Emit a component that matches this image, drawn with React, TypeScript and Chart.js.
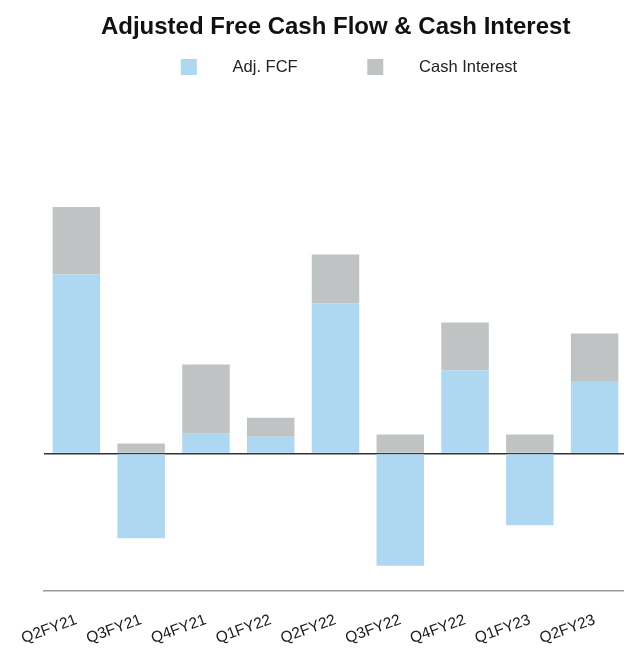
import { useEffect, useRef } from "react";
import { Chart, registerables } from "chart.js";

Chart.register(...registerables);

const categories = ["Q2FY21", "Q3FY21", "Q4FY21", "Q1FY22", "Q2FY22", "Q3FY22", "Q4FY22", "Q1FY23", "Q2FY23"];
const adjFcf = [179, -85, 19.6, 16.6, 150, -112.4, 83.3, -72, 72.3];
const cashInterest = [67.6, 10, 69.4, 19, 49, 19, 47.7, 19, 47.7];
const seriesLabels = ["Adj. FCF", "Cash Interest"];
const seriesColors = ["#AED7F2", "#C0C3C4"];
const titleText = "Adjusted Free Cash Flow & Cash Interest";
const yMin = -137.4;
const yMax = 368.3;

const FONT = "'Liberation Sans', Arial, Helvetica, sans-serif";

export default function App() {
  const canvasRef = useRef<HTMLCanvasElement | null>(null);

  useEffect(() => {
    document.documentElement.style.overflow = "hidden";
    document.body.style.overflow = "hidden";
    const canvas = canvasRef.current;
    if (!canvas) return;
    const chart = new Chart(canvas, {
      type: "bar",
      data: {
        labels: categories,
        datasets: [
          {
            label: seriesLabels[0],
            data: adjFcf,
            backgroundColor: seriesColors[0],
            borderWidth: 0,
            stack: "s",
          },
          {
            label: seriesLabels[1],
            data: cashInterest,
            backgroundColor: seriesColors[1],
            borderWidth: 0,
            stack: "s",
          },
        ],
      },
      options: {
        animation: false,
        responsive: true,
        maintainAspectRatio: false,
        layout: { padding: { left: 36, right: 0, top: 0, bottom: 0 } },
        datasets: {
          bar: { categoryPercentage: 1, barPercentage: 0.733 },
        },
        plugins: {
          tooltip: { enabled: false },
          title: {
            display: true,
            text: titleText + "    ",
            color: "#111111",
            font: { family: FONT, size: 24, weight: "bold" },
            padding: { top: 5, bottom: 7 },
          },
          legend: {
            display: true,
            position: "top",
            align: "center",
            labels: {
              boxWidth: 16,
              boxHeight: 16,
              padding: 10,
              color: "#222222",
              font: { family: FONT, size: 16.5 },
              generateLabels: (c: any) => {
                const items = Chart.defaults.plugins.legend.labels.generateLabels(c);
                return items.map((it: any, i: number) => ({
                  ...it,
                  lineWidth: 0,
                  text: "      " + it.text + (i === 0 ? " ".repeat(13) : ""),
                }));
              },
            },
          },
        },
        scales: {
          x: {
            stacked: true,
            grid: { display: false, drawTicks: false },
            border: { display: true, color: "#9a9a9a", width: 1.5 },
            ticks: {
              autoSkip: false,
              minRotation: 20,
              maxRotation: 20,
              padding: 20,
              color: "#1a1a1a",
              font: { family: FONT, size: 15.5 },
            },
            afterFit: (s: any) => {
              s.height = 59.3;
              s.paddingLeft = 0;
              s.paddingRight = 0;
            },
          },
          y: {
            stacked: true,
            position: "right",
            min: yMin,
            max: yMax,
            border: { display: false },
            grid: {
              drawTicks: false,
              lineWidth: 1.5,
              color: (ctx: any) => (ctx.tick && ctx.tick.value === 0 ? "#333333" : "rgba(0,0,0,0)"),
            },
            ticks: { display: false },
            afterBuildTicks: (s: any) => {
              s.ticks = [{ value: 0 }];
            },
            afterFit: (s: any) => {
              s.width = 27;
            },
          },
        },
      },
    });
    return () => chart.destroy();
  }, []);

  return (
    <div style={{ width: 624, height: 642, overflow: "hidden" }}>
      <div style={{ position: "relative", width: 646, height: 642 }}>
        <canvas ref={canvasRef} />
      </div>
    </div>
  );
}
